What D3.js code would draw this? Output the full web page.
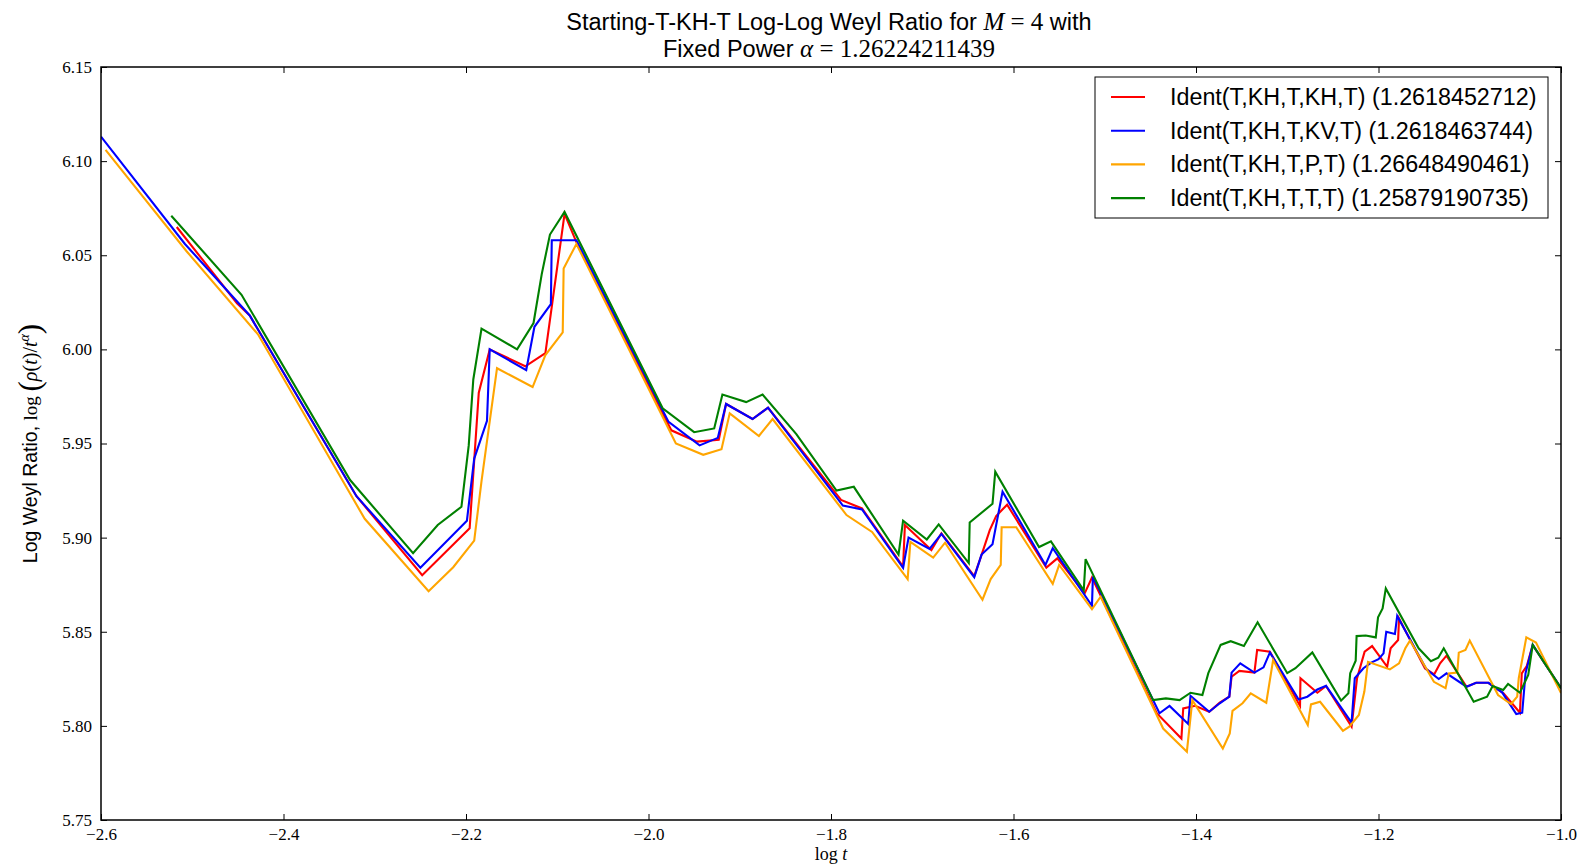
<!DOCTYPE html>
<html>
<head>
<meta charset="utf-8">
<script src="https://cdn.jsdelivr.net/npm/d3@7"></script>
<style>
  html, body { margin: 0; padding: 0; background: #fff; }
  svg { display: block; }
</style>
</head>
<body>
<svg id="chart" width="1585" height="867"></svg>
<script>
// ---------------- data ----------------
const seriesNames = [
  "Ident(T,KH,T,KH,T) (1.2618452712)",
  "Ident(T,KH,T,KV,T) (1.2618463744)",
  "Ident(T,KH,T,P,T) (1.26648490461)",
  "Ident(T,KH,T,T,T) (1.25879190735)"
];
const seriesColors = ["#ff0000", "#0000ff", "#ffa500", "#008000"];

const redX = [-2.517,-2.451,-2.437,-2.320,-2.248,-2.196,-2.186,-2.174,-2.135,-2.113,-2.092,-2.079,-1.975,-1.947,-1.923,-1.915,-1.886,-1.869,-1.789,-1.766,-1.721,-1.719,-1.690,-1.679,-1.643,-1.635,-1.626,-1.619,-1.607,-1.564,-1.552,-1.522,-1.514,-1.443,-1.416,-1.414,-1.401,-1.3855,-1.374,-1.3635,-1.361,-1.3525,-1.336,-1.333,-1.319,-1.286,-1.2855,-1.267,-1.2575,-1.2295,-1.2235,-1.2152,-1.207,-1.1905,-1.1867,-1.1785,-1.1775,-1.149,-1.139,-1.1325,-1.1255,-1.1035,-1.093,-1.0796,-1.063,-1.045,-1.043,-1.0375,-1.031,-1.000];
const redY = [6.065,6.0245,6.018,5.922,5.880,5.905,5.977,6.000,5.991,5.998,6.072,6.057,5.957,5.951,5.952,5.971,5.963,5.969,5.920,5.9155,5.8846,5.9067,5.8934,5.9023,5.8796,5.8908,5.904,5.9115,5.9175,5.8841,5.889,5.8704,5.8788,5.8067,5.7933,5.8093,5.8107,5.8075,5.8123,5.8155,5.8261,5.8292,5.8283,5.8403,5.8394,5.8106,5.8253,5.8176,5.8212,5.7996,5.8253,5.8394,5.8424,5.8314,5.8412,5.8456,5.857,5.8305,5.8273,5.8332,5.8373,5.8208,5.8229,5.8229,5.8173,5.807,5.8279,5.8318,5.843,5.820];

const blueX = [-2.600,-2.508,-2.437,-2.320,-2.250,-2.199,-2.191,-2.177,-2.174,-2.134,-2.125,-2.107,-2.106,-2.079,-1.978,-1.944,-1.924,-1.915,-1.886,-1.869,-1.787,-1.766,-1.721,-1.715,-1.692,-1.679,-1.643,-1.635,-1.623,-1.612,-1.565,-1.557,-1.514,-1.513,-1.440,-1.429,-1.4085,-1.406,-1.3855,-1.374,-1.3635,-1.361,-1.3515,-1.336,-1.326,-1.319,-1.2875,-1.278,-1.267,-1.2575,-1.2295,-1.226,-1.2165,-1.208,-1.200,-1.1945,-1.1915,-1.182,-1.1795,-1.1474,-1.134,-1.1255,-1.1035,-1.093,-1.0796,-1.0645,-1.049,-1.0425,-1.0389,-1.031,-1.000];
const blueY = [6.113,6.056,6.018,5.922,5.884,5.909,5.942,5.962,6.000,5.989,6.012,6.024,6.058,6.058,5.9615,5.949,5.953,5.971,5.963,5.969,5.917,5.915,5.884,5.900,5.894,5.902,5.879,5.891,5.8965,5.9244,5.8855,5.8944,5.8638,5.8792,5.8067,5.8106,5.801,5.8159,5.8075,5.812,5.8155,5.8283,5.8332,5.8283,5.8311,5.839,5.814,5.8155,5.8193,5.8213,5.8017,5.8253,5.8306,5.8336,5.8354,5.8385,5.850,5.8488,5.8584,5.830,5.8249,5.8279,5.8208,5.8229,5.8229,5.8178,5.8063,5.807,5.8279,5.843,5.820];

const orangeX = [-2.595,-2.506,-2.428,-2.311,-2.241,-2.214,-2.191,-2.183,-2.166,-2.127,-2.113,-2.094,-2.093,-2.079,-1.970,-1.940,-1.920,-1.911,-1.879,-1.864,-1.783,-1.755,-1.716,-1.713,-1.688,-1.675,-1.634,-1.625,-1.614,-1.613,-1.597,-1.557,-1.550,-1.514,-1.5045,-1.436,-1.410,-1.404,-1.3706,-1.363,-1.360,-1.349,-1.340,-1.323,-1.3155,-1.2775,-1.274,-1.264,-1.239,-1.232,-1.2215,-1.2155,-1.2115,-1.1875,-1.1775,-1.1706,-1.1655,-1.1393,-1.1265,-1.123,-1.1137,-1.112,-1.1047,-1.100,-1.069,-1.0547,-1.048,-1.0463,-1.038,-1.0274,-1.000];
const orangeY = [6.106,6.052,6.008,5.910,5.8715,5.8843,5.8984,5.930,5.990,5.980,5.997,6.009,6.043,6.056,5.950,5.944,5.947,5.966,5.954,5.963,5.912,5.903,5.878,5.8977,5.8894,5.8973,5.867,5.878,5.8855,5.9055,5.9055,5.8754,5.8855,5.862,5.8686,5.7986,5.7863,5.8137,5.788,5.796,5.808,5.812,5.8173,5.8123,5.835,5.8005,5.8114,5.8128,5.7974,5.7996,5.8058,5.8182,5.834,5.830,5.8332,5.8412,5.8453,5.8234,5.820,5.8279,5.8283,5.8389,5.8403,5.8453,5.8164,5.8116,5.8155,5.8253,5.847,5.8443,5.8174];

const greenX = [-2.523,-2.446,-2.327,-2.258,-2.231,-2.205,-2.197,-2.192,-2.183,-2.144,-2.126,-2.117,-2.108,-2.092,-1.9845,-1.950,-1.928,-1.919,-1.893,-1.875,-1.838,-1.794,-1.775,-1.726,-1.721,-1.695,-1.682,-1.649,-1.648,-1.623,-1.620,-1.572,-1.559,-1.523,-1.521,-1.447,-1.433,-1.418,-1.406,-1.393,-1.3865,-1.373,-1.362,-1.3475,-1.3325,-1.300,-1.291,-1.2725,-1.241,-1.233,-1.231,-1.225,-1.224,-1.214,-1.203,-1.2005,-1.1955,-1.192,-1.156,-1.1426,-1.1345,-1.1285,-1.0957,-1.081,-1.0749,-1.0633,-1.058,-1.045,-1.0359,-1.031,-1.000];
const greenY = [6.071,6.029,5.9306,5.8917,5.9067,5.9164,5.949,5.984,6.011,6.000,6.014,6.040,6.061,6.073,5.9687,5.956,5.958,5.976,5.972,5.976,5.955,5.925,5.927,5.891,5.909,5.899,5.907,5.8865,5.908,5.918,5.935,5.895,5.898,5.872,5.8886,5.8137,5.8146,5.8137,5.8176,5.8164,5.828,5.843,5.845,5.8424,5.855,5.828,5.8306,5.839,5.8134,5.8173,5.828,5.8346,5.8477,5.848,5.847,5.8577,5.8624,5.873,5.8412,5.8344,5.8362,5.8412,5.8128,5.8155,5.8212,5.8191,5.8223,5.8176,5.827,5.843,5.820];

const xTicks = [-2.6,-2.4,-2.2,-2.0,-1.8,-1.6,-1.4,-1.2,-1.0];
const yTicks = [5.75,5.80,5.85,5.90,5.95,6.00,6.05,6.10,6.15];

// ---------------- layout ----------------
const L = 101, R = 1561, T = 67, B = 820;
const svg = d3.select("#chart");
const x = d3.scaleLinear().domain([-2.6, -1.0]).range([L, R]);
const y = d3.scaleLinear().domain([5.75, 6.15]).range([B, T]);

const serif = "'Liberation Serif', 'DejaVu Serif', serif";
const sans = "'Liberation Sans', Arial, sans-serif";

// lines
const allSeries = [
  {xs: redX, ys: redY},
  {xs: blueX, ys: blueY},
  {xs: orangeX, ys: orangeY},
  {xs: greenX, ys: greenY}
];
const line = d3.line().x(d => x(d[0])).y(d => y(d[1]));
svg.append("defs").append("clipPath").attr("id", "clip")
  .append("rect").attr("x", L).attr("y", T).attr("width", R - L).attr("height", B - T);
const g = svg.append("g").attr("clip-path", "url(#clip)");
allSeries.forEach((s, i) => {
  const pts = s.xs.map((v, k) => [v, s.ys[k]]);
  g.append("path").datum(pts)
    .attr("d", line)
    .attr("fill", "none")
    .attr("stroke", seriesColors[i])
    .attr("stroke-width", 2.1)
    .attr("stroke-linejoin", "miter");
});

// axes
const fmtX = d3.format(".1f"), fmtY = d3.format(".2f");
function styleAxis(sel) {
  sel.select(".domain").remove();
  sel.selectAll(".tick line").attr("stroke", "#000").attr("stroke-width", 1);
  sel.selectAll("text").attr("font-family", serif).attr("font-size", 17).attr("fill", "#000");
}
svg.append("g").attr("transform", `translate(0,${B})`)
  .call(d3.axisBottom(x).tickValues(xTicks).tickFormat(fmtX).tickSizeInner(-6).tickSizeOuter(0).tickPadding(8))
  .call(styleAxis);
svg.append("g").attr("transform", `translate(0,${T})`)
  .call(d3.axisTop(x).tickValues(xTicks).tickFormat("").tickSizeInner(-6).tickSizeOuter(0))
  .call(styleAxis);
svg.append("g").attr("transform", `translate(${L},0)`)
  .call(d3.axisLeft(y).tickValues(yTicks).tickFormat(fmtY).tickSizeInner(-6).tickSizeOuter(0).tickPadding(9))
  .call(styleAxis);
svg.append("g").attr("transform", `translate(${R},0)`)
  .call(d3.axisRight(y).tickValues(yTicks).tickFormat("").tickSizeInner(-6).tickSizeOuter(0))
  .call(styleAxis);

// frame
svg.append("rect").attr("x", L).attr("y", T).attr("width", R - L).attr("height", B - T)
  .attr("fill", "none").attr("stroke", "#000").attr("stroke-width", 1.5);

// title
const cx = (L + R) / 2;
const t1 = svg.append("text").attr("x", cx - 2).attr("y", 30).attr("text-anchor", "middle")
  .attr("font-family", sans).attr("font-size", 23.5).attr("fill", "#000");
t1.append("tspan").text("Starting-T-KH-T Log-Log Weyl Ratio for ");
t1.append("tspan").attr("font-family", serif).attr("font-size", 25).attr("font-style", "italic").text("M");
t1.append("tspan").attr("font-family", serif).attr("font-size", 25).text(" = 4");
t1.append("tspan").text(" with");
const t2 = svg.append("text").attr("x", cx - 2).attr("y", 57).attr("text-anchor", "middle")
  .attr("font-family", sans).attr("font-size", 23.5).attr("fill", "#000");
t2.append("tspan").text("Fixed Power ");
t2.append("tspan").attr("font-family", serif).attr("font-size", 25).attr("font-style", "italic").text("α");
t2.append("tspan").attr("font-family", serif).attr("font-size", 25).text(" = 1.26224211439");

// x label
const xl = svg.append("text").attr("x", cx).attr("y", 860).attr("text-anchor", "middle")
  .attr("font-family", serif).attr("font-size", 18).attr("fill", "#000");
xl.append("tspan").text("log ");
xl.append("tspan").attr("font-style", "italic").text("t");

// y label
const yl = svg.append("text").attr("transform", `translate(37,${(T + B) / 2}) rotate(-90)`)
  .attr("text-anchor", "middle").attr("font-family", sans).attr("font-size", 19.5).attr("fill", "#000");
yl.append("tspan").text("Log Weyl Ratio, ");
yl.append("tspan").attr("font-family", serif).attr("font-size", 19).text("log ");
yl.append("tspan").attr("font-family", serif).attr("font-size", 31).attr("dy", 3).text("(");
yl.append("tspan").attr("font-family", serif).attr("font-size", 20).attr("font-style", "italic").attr("dy", -3).text("ρ");
yl.append("tspan").attr("font-family", serif).attr("font-size", 20).text("(");
yl.append("tspan").attr("font-family", serif).attr("font-size", 20).attr("font-style", "italic").text("t");
yl.append("tspan").attr("font-family", serif).attr("font-size", 20).text(")/");
yl.append("tspan").attr("font-family", serif).attr("font-size", 20).attr("font-style", "italic").text("t");
yl.append("tspan").attr("font-family", serif).attr("font-size", 14).attr("font-style", "italic").attr("dy", -8).text("α");
yl.append("tspan").attr("font-family", serif).attr("font-size", 31).attr("dy", 11).text(")");

// legend
const lgX = 1095, lgY = 77, lgW = 453, lgH = 141;
const lg = svg.append("g");
lg.append("rect").attr("x", lgX).attr("y", lgY).attr("width", lgW).attr("height", lgH)
  .attr("fill", "#fff").attr("stroke", "#000").attr("stroke-width", 1);
seriesNames.forEach((name, i) => {
  const yy = lgY + 20 + i * 33.7;
  lg.append("line").attr("x1", lgX + 16).attr("x2", lgX + 50).attr("y1", yy).attr("y2", yy)
    .attr("stroke", seriesColors[i]).attr("stroke-width", 2.1);
  lg.append("text").attr("x", lgX + 75).attr("y", yy + 8)
    .attr("font-family", sans).attr("font-size", 23.3).attr("fill", "#000").text(name);
});
</script>
</body>
</html>
